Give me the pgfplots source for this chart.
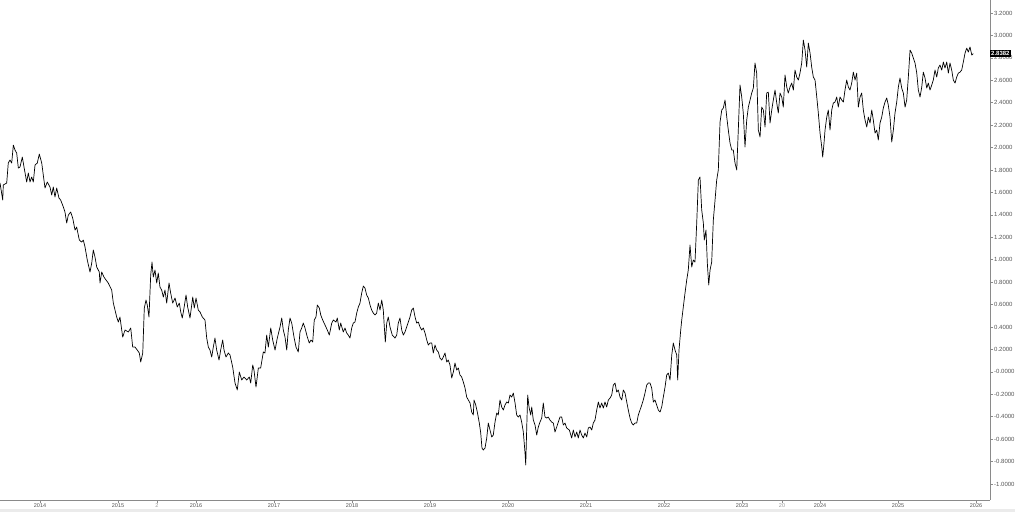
\documentclass[border=0pt]{standalone}
\usepackage{pgfplots}
\pgfplotsset{compat=1.18}
\usepackage{pgfplotstable}
\usepackage{fontspec}
\setmainfont{Liberation Sans}
\definecolor{axgray}{HTML}{8A8A8A}
\definecolor{lblgray}{HTML}{555555}
\pgfplotstableread{
x y
2013.487 1.684
2013.522 1.532
2013.529 1.666
2013.573 1.684
2013.593 1.862
2013.615 1.889
2013.637 1.862
2013.658 2.022
2013.679 1.978
2013.701 1.951
2013.722 1.817
2013.743 1.826
2013.773 1.915
2013.795 1.826
2013.829 1.693
2013.850 1.773
2013.872 1.693
2013.893 1.737
2013.914 1.693
2013.936 1.844
2013.965 1.862
2013.991 1.942
2014.022 1.862
2014.042 1.755
2014.064 1.639
2014.093 1.693
2014.128 1.648
2014.150 1.577
2014.170 1.648
2014.192 1.559
2014.214 1.639
2014.243 1.550
2014.265 1.532
2014.299 1.470
2014.320 1.425
2014.342 1.327
2014.363 1.398
2014.393 1.425
2014.419 1.371
2014.449 1.264
2014.470 1.291
2014.504 1.175
2014.534 1.157
2014.555 1.175
2014.577 1.113
2014.606 0.997
2014.641 0.890
2014.663 0.970
2014.683 1.086
2014.705 1.024
2014.727 0.935
2014.760 0.890
2014.769 0.792
2014.791 0.890
2014.820 0.845
2014.846 0.819
2014.875 0.792
2014.919 0.729
2014.940 0.613
2014.983 0.489
2015.004 0.444
2015.025 0.489
2015.060 0.310
2015.090 0.373
2015.132 0.355
2015.163 0.391
2015.188 0.221
2015.218 0.221
2015.247 0.194
2015.273 0.168
2015.291 0.088
2015.317 0.168
2015.337 0.569
2015.359 0.640
2015.375 0.596
2015.397 0.489
2015.419 0.863
2015.436 0.979
2015.452 0.845
2015.474 0.908
2015.496 0.792
2015.516 0.881
2015.538 0.756
2015.560 0.729
2015.581 0.667
2015.602 0.729
2015.624 0.613
2015.654 0.792
2015.675 0.703
2015.701 0.613
2015.731 0.658
2015.760 0.578
2015.786 0.613
2015.804 0.534
2015.824 0.480
2015.846 0.569
2015.872 0.685
2015.893 0.578
2015.923 0.480
2015.958 0.667
2015.978 0.569
2016.000 0.658
2016.029 0.551
2016.051 0.534
2016.081 0.489
2016.115 0.462
2016.137 0.301
2016.158 0.221
2016.179 0.194
2016.201 0.132
2016.222 0.221
2016.243 0.301
2016.265 0.194
2016.295 0.105
2016.316 0.194
2016.342 0.284
2016.359 0.194
2016.384 0.132
2016.414 0.168
2016.436 0.150
2016.470 0.043
2016.500 -0.100
2016.529 -0.162
2016.555 -0.002
2016.586 -0.073
2016.615 -0.046
2016.650 -0.073
2016.683 -0.046
2016.701 -0.100
2016.727 0.061
2016.743 0.016
2016.769 -0.136
2016.799 0.034
2016.829 0.034
2016.863 0.177
2016.884 0.168
2016.906 0.328
2016.927 0.221
2016.958 0.391
2016.983 0.284
2017.013 0.194
2017.042 0.301
2017.077 0.400
2017.099 0.480
2017.119 0.373
2017.141 0.310
2017.163 0.194
2017.183 0.373
2017.205 0.480
2017.227 0.435
2017.256 0.310
2017.282 0.221
2017.311 0.177
2017.333 0.355
2017.355 0.391
2017.375 0.435
2017.397 0.391
2017.427 0.310
2017.452 0.257
2017.474 0.284
2017.496 0.266
2017.516 0.462
2017.538 0.489
2017.555 0.596
2017.581 0.569
2017.599 0.507
2017.624 0.462
2017.654 0.417
2017.683 0.373
2017.709 0.328
2017.740 0.435
2017.760 0.462
2017.795 0.444
2017.811 0.480
2017.837 0.373
2017.855 0.435
2017.888 0.355
2017.910 0.391
2017.932 0.346
2017.952 0.328
2017.974 0.301
2017.996 0.391
2018.016 0.435
2018.038 0.444
2018.060 0.524
2018.081 0.578
2018.102 0.613
2018.124 0.703
2018.145 0.765
2018.166 0.747
2018.188 0.685
2018.209 0.658
2018.231 0.596
2018.252 0.551
2018.273 0.524
2018.295 0.507
2018.316 0.524
2018.337 0.613
2018.359 0.551
2018.381 0.640
2018.401 0.551
2018.414 0.400
2018.427 0.266
2018.445 0.435
2018.465 0.489
2018.487 0.400
2018.516 0.328
2018.551 0.301
2018.573 0.328
2018.593 0.435
2018.615 0.480
2018.637 0.373
2018.658 0.328
2018.679 0.355
2018.701 0.400
2018.722 0.444
2018.743 0.489
2018.765 0.551
2018.786 0.569
2018.808 0.489
2018.829 0.435
2018.850 0.444
2018.872 0.400
2018.893 0.373
2018.914 0.391
2018.936 0.346
2018.958 0.284
2018.978 0.239
2019.000 0.257
2019.022 0.257
2019.042 0.168
2019.064 0.239
2019.086 0.194
2019.106 0.177
2019.128 0.123
2019.150 0.105
2019.170 0.132
2019.192 0.168
2019.214 0.088
2019.234 0.105
2019.256 0.061
2019.278 -0.055
2019.299 -0.002
2019.320 0.079
2019.342 0.016
2019.363 0.034
2019.384 -0.028
2019.406 -0.046
2019.427 -0.091
2019.449 -0.145
2019.470 -0.225
2019.491 -0.251
2019.513 -0.278
2019.534 -0.358
2019.555 -0.385
2019.564 -0.251
2019.586 -0.296
2019.606 -0.358
2019.632 -0.457
2019.650 -0.546
2019.666 -0.680
2019.683 -0.697
2019.705 -0.680
2019.727 -0.590
2019.747 -0.457
2019.769 -0.519
2019.791 -0.581
2019.811 -0.564
2019.833 -0.448
2019.855 -0.367
2019.875 -0.385
2019.897 -0.251
2019.919 -0.314
2019.940 -0.341
2019.961 -0.296
2019.983 -0.269
2020.004 -0.278
2020.025 -0.207
2020.047 -0.225
2020.068 -0.189
2020.090 -0.278
2020.111 -0.385
2020.132 -0.403
2020.154 -0.385
2020.175 -0.448
2020.196 -0.537
2020.218 -0.724
2020.227 -0.831
2020.240 -0.492
2020.252 -0.207
2020.269 -0.314
2020.291 -0.385
2020.304 -0.314
2020.324 -0.430
2020.346 -0.474
2020.368 -0.564
2020.388 -0.492
2020.410 -0.448
2020.432 -0.412
2020.452 -0.278
2020.474 -0.403
2020.496 -0.412
2020.516 -0.403
2020.538 -0.430
2020.560 -0.448
2020.581 -0.457
2020.602 -0.537
2020.624 -0.492
2020.645 -0.448
2020.666 -0.403
2020.688 -0.403
2020.709 -0.474
2020.731 -0.457
2020.752 -0.501
2020.786 -0.519
2020.816 -0.590
2020.837 -0.519
2020.859 -0.581
2020.881 -0.537
2020.901 -0.590
2020.923 -0.519
2020.945 -0.564
2020.965 -0.590
2020.987 -0.546
2021.009 -0.581
2021.029 -0.501
2021.051 -0.492
2021.073 -0.519
2021.093 -0.457
2021.115 -0.430
2021.137 -0.341
2021.158 -0.269
2021.179 -0.323
2021.201 -0.278
2021.222 -0.323
2021.243 -0.269
2021.265 -0.314
2021.286 -0.251
2021.308 -0.234
2021.329 -0.207
2021.350 -0.118
2021.372 -0.100
2021.393 -0.180
2021.414 -0.162
2021.436 -0.225
2021.458 -0.251
2021.478 -0.162
2021.500 -0.189
2021.522 -0.269
2021.542 -0.341
2021.564 -0.412
2021.586 -0.457
2021.606 -0.474
2021.628 -0.457
2021.650 -0.457
2021.670 -0.385
2021.692 -0.341
2021.714 -0.296
2021.734 -0.251
2021.756 -0.189
2021.778 -0.118
2021.799 -0.100
2021.820 -0.100
2021.842 -0.145
2021.863 -0.269
2021.884 -0.251
2021.906 -0.296
2021.927 -0.341
2021.949 -0.358
2021.970 -0.314
2021.991 -0.225
2022.013 -0.136
2022.034 -0.028
2022.055 -0.011
2022.077 -0.073
2022.099 0.150
2022.119 0.257
2022.141 0.194
2022.163 0.150
2022.175 -0.073
2022.192 0.194
2022.214 0.373
2022.227 0.462
2022.247 0.578
2022.269 0.703
2022.291 0.819
2022.311 0.908
2022.333 1.131
2022.355 0.935
2022.375 0.997
2022.397 0.979
2022.419 1.327
2022.440 1.710
2022.461 1.737
2022.483 1.443
2022.504 1.327
2022.516 1.175
2022.538 1.264
2022.555 0.970
2022.573 0.774
2022.590 0.908
2022.611 0.979
2022.632 1.354
2022.654 1.532
2022.675 1.710
2022.696 1.800
2022.718 2.228
2022.740 2.335
2022.760 2.352
2022.782 2.424
2022.804 2.272
2022.824 2.156
2022.846 2.040
2022.868 1.978
2022.888 1.978
2022.910 1.862
2022.932 1.800
2022.952 2.156
2022.974 2.558
2022.996 2.451
2023.016 2.308
2023.038 2.005
2023.060 2.245
2023.081 2.361
2023.124 2.486
2023.145 2.531
2023.166 2.754
2023.188 2.664
2023.209 2.156
2023.231 2.094
2023.252 2.361
2023.273 2.335
2023.295 2.183
2023.316 2.486
2023.337 2.495
2023.359 2.219
2023.381 2.335
2023.401 2.424
2023.423 2.513
2023.445 2.397
2023.465 2.308
2023.487 2.486
2023.509 2.451
2023.529 2.361
2023.551 2.647
2023.573 2.540
2023.593 2.486
2023.615 2.540
2023.637 2.575
2023.658 2.513
2023.679 2.691
2023.701 2.629
2023.722 2.602
2023.743 2.664
2023.765 2.754
2023.786 2.959
2023.808 2.869
2023.829 2.718
2023.850 2.932
2023.872 2.843
2023.893 2.718
2023.914 2.629
2023.936 2.602
2023.958 2.451
2023.978 2.308
2024.000 2.129
2024.022 2.005
2024.034 1.915
2024.051 2.040
2024.064 2.156
2024.086 2.272
2024.106 2.335
2024.128 2.156
2024.150 2.335
2024.170 2.397
2024.192 2.406
2024.214 2.451
2024.234 2.361
2024.256 2.451
2024.278 2.424
2024.299 2.406
2024.320 2.513
2024.342 2.602
2024.363 2.540
2024.384 2.513
2024.406 2.575
2024.427 2.673
2024.449 2.602
2024.470 2.664
2024.491 2.361
2024.513 2.451
2024.534 2.486
2024.555 2.335
2024.577 2.245
2024.599 2.183
2024.619 2.272
2024.641 2.219
2024.663 2.335
2024.683 2.245
2024.705 2.129
2024.727 2.156
2024.747 2.067
2024.769 2.219
2024.791 2.272
2024.811 2.352
2024.833 2.406
2024.855 2.442
2024.875 2.379
2024.897 2.272
2024.919 2.049
2024.940 2.156
2024.961 2.308
2024.983 2.406
2025.004 2.540
2025.025 2.620
2025.047 2.531
2025.068 2.486
2025.090 2.361
2025.111 2.424
2025.132 2.629
2025.154 2.869
2025.175 2.843
2025.196 2.798
2025.218 2.754
2025.240 2.664
2025.260 2.513
2025.282 2.451
2025.304 2.540
2025.324 2.673
2025.346 2.620
2025.368 2.531
2025.388 2.575
2025.410 2.513
2025.432 2.558
2025.452 2.602
2025.474 2.691
2025.496 2.629
2025.516 2.709
2025.538 2.736
2025.560 2.691
2025.581 2.763
2025.602 2.709
2025.624 2.763
2025.645 2.664
2025.666 2.754
2025.688 2.691
2025.709 2.602
2025.731 2.575
2025.752 2.629
2025.773 2.664
2025.795 2.673
2025.816 2.691
2025.837 2.763
2025.859 2.843
2025.881 2.887
2025.901 2.852
2025.923 2.897
2025.945 2.825
2025.965 2.8382
}\series

\begin{document}
\begin{tikzpicture}
\fill[black!8] (0,0) rectangle (1015pt,3pt);
\begin{axis}[
  at={(0pt,12pt)}, anchor=south west,
  scale only axis,
  width=990pt, height=500pt,
  xmin=2013.487, xmax=2026.179,
  ymin=-1.143, ymax=3.316,
  axis x line*=bottom,
  axis y line*=right,
  axis line style={draw=axgray, line width=0.8pt},
  every outer x axis line/.append style={-},
  every outer y axis line/.append style={-},
  xtick={2014,2015,2016,2017,2018,2019,2020,2021,2022,2023,2024,2025,2026},
  xticklabels={2014,2015,2016,2017,2018,2019,2020,2021,2022,2023,2024,2025,2026},
  extra x ticks={2015.500,2023.513},
  extra x tick labels={2,20},
  extra x tick style={xticklabel style={text=lblgray!60}},
  ytick={-1,-0.8,-0.6,-0.4,-0.2,0,0.2,0.4,0.6,0.8,1,1.2,1.4,1.6,1.8,2,2.2,2.4,2.6,2.8,3,3.2},
  yticklabels={-1.0000,-0.8000,-0.6000,-0.4000,-0.2000,-0.0000,0.2000,0.4000,0.6000,0.8000,1.0000,1.2000,1.4000,1.6000,1.8000,2.0000,2.2000,2.4000,2.6000,2.8000,3.0000,3.2000},
  tick align=outside,
  major tick length=2.5pt,
  tick style={draw=axgray, line width=0.5pt},
  xticklabel style={font=\fontsize{5.5}{6}\selectfont, text=lblgray, inner sep=0.5pt, yshift=-0.5pt},
  yticklabel style={font=\fontsize{6}{7}\selectfont, text=lblgray, inner sep=1pt, xshift=0.5pt},
  clip=false,
]
\addplot[black, line width=0.7pt, line join=round] table {\series};
\node[fill=black, text=white, font=\fontsize{6}{7}\selectfont\bfseries, inner sep=1pt, minimum height=7pt, anchor=west] at (axis cs:2026.179,2.8382) {2.8382};
\end{axis}
\pgfresetboundingbox
\path (0,0) rectangle (1015pt,512pt);
\end{tikzpicture}
\end{document}
